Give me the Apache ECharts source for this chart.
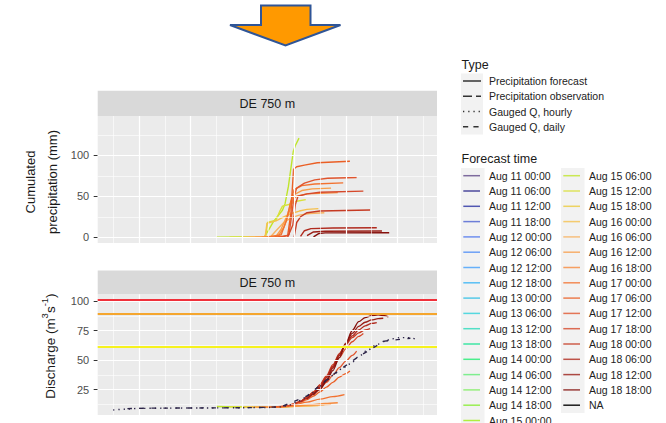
<!DOCTYPE html>
<html>
<head>
<meta charset="utf-8">
<title>DE 750 m – precipitation and discharge forecasts</title>
<script src="https://cdn.jsdelivr.net/npm/echarts@6/dist/echarts.min.js"></script>
<style>
  html, body { margin: 0; padding: 0; background: #ffffff; }
  #chart { width: 666px; height: 423px; }
</style>
</head>
<body>
<div id="chart"></div>
<script>
// ---------------------------------------------------------------------------
// Data. Time is expressed as day of August (decimal): 17.25 = Aug 17 06:00.
// ---------------------------------------------------------------------------

const forecastTimes = [
  'Aug 11 00:00', 'Aug 11 06:00', 'Aug 11 12:00', 'Aug 11 18:00',
  'Aug 12 00:00', 'Aug 12 06:00', 'Aug 12 12:00', 'Aug 12 18:00',
  'Aug 13 00:00', 'Aug 13 06:00', 'Aug 13 12:00', 'Aug 13 18:00',
  'Aug 14 00:00', 'Aug 14 06:00', 'Aug 14 12:00', 'Aug 14 18:00',
  'Aug 15 00:00', 'Aug 15 06:00', 'Aug 15 12:00', 'Aug 15 18:00',
  'Aug 16 00:00', 'Aug 16 06:00', 'Aug 16 12:00', 'Aug 16 18:00',
  'Aug 17 00:00', 'Aug 17 06:00', 'Aug 17 12:00', 'Aug 17 18:00',
  'Aug 18 00:00', 'Aug 18 06:00', 'Aug 18 12:00', 'Aug 18 18:00',
  'NA'
];

const typeLabels = [
  'Precipitation forecast', 'Precipitation observation',
  'Gauged Q, hourly', 'Gauged Q, daily'
];

// cumulated precipitation forecasts [day, mm]
const precip_15_06 = [[15.0,0],[16.85,0.5],[17.0,8],[17.2,19],[17.4,27],[17.55,33],[17.65,41],[17.78,62],[17.88,85],[17.97,105],[18.05,112],[18.19,121]];
const precip_15_12 = [[15.5,0],[16.9,0.5],[16.97,18],[17.3,21],[17.45,32],[17.55,38],[17.8,40],[18.1,44],[18.45,46]];
const precip_16_00 = [[16.0,0],[16.88,0.5],[16.95,17],[17.3,20],[17.6,25],[17.9,29],[18.2,32],[18.5,34],[18.94,35]];
const precip_16_06 = [[16.25,0],[17.1,1],[17.3,8],[17.6,18],[17.9,24],[18.2,27],[18.6,29],[19.17,30]];
const precip_16_12 = [[16.5,0],[17.3,1],[17.5,10],[17.75,28],[17.9,45],[18.0,52],[18.3,57],[18.7,59],[19.43,60]];
const precip_16_18 = [[16.75,0],[17.4,2],[17.6,12],[17.8,30],[17.95,46],[18.1,50],[18.5,53],[19.69,54.5]];
const precip_17_00 = [[17.0,0],[17.5,3],[17.7,20],[17.88,45],[18.0,58],[18.3,63],[18.8,65],[19.9,66.4]];
const precip_17_06 = [[17.25,0],[17.75,2],[17.88,30],[17.93,59],[17.98,83],[18.1,86],[18.4,88],[18.9,91],[20.16,92.7]];
const precip_17_12 = [[17.5,0],[17.8,3],[17.92,30],[18.0,50],[18.1,60],[18.4,66],[18.8,70],[19.3,72],[20.42,73]];
const precip_17_18 = [[17.75,0],[17.95,15],[18.05,40],[18.15,50],[18.5,53],[19.0,55],[20.68,56.3]];
const precip_18_00 = [[18.0,0],[18.1,18],[18.25,25],[18.5,30],[19.0,32],[20.94,33.2]];
const precip_18_06 = [[18.25,1],[18.4,8],[18.65,10.5],[19.5,11.3],[21.2,11.7]];
const precip_18_12 = [[18.5,2],[18.75,6.5],[19.2,7.3],[21.4,7.6]];
const precip_18_18 = [[18.75,0.5],[18.95,4.5],[19.2,5.3],[21.68,5.6]];

// discharge forecasts [day, m3/s]
const q_15_06 = [[15.0,10.6],[15.6,10.4],[16.5,10.2],[17.5,10.3],[18.19,11.2]];
const q_15_12 = [[15.5,10.4],[16.5,10.2],[17.5,10.4],[18.45,11.8]];
const q_16_00 = [[16.0,10.1],[17.0,10.1],[17.8,10.5],[18.4,11.0],[18.94,11.4]];
const q_16_06 = [[16.25,10.0],[17.0,10.1],[17.8,10.6],[18.5,11.3],[19.17,12.0]];
const q_16_12 = [[16.5,10.0],[17.3,10.2],[17.9,10.9],[18.6,11.8],[19.43,12.4]];
const q_16_18 = [[16.75,10.0],[17.5,10.2],[18.0,11.0],[18.6,12.2],[19.2,13.2],[19.69,13.8]];
const q_17_00 = [[17.0,10.1],[17.5,10.5],[17.75,11],[18.0,12],[18.5,14.3],[19.0,16.8],[19.5,19],[19.95,20.7]];
const q_17_06 = [[17.25,10.2],[17.5,10.6],[17.75,11.3],[18.0,12.5],[18.25,14.3],[18.5,16.5],[18.75,19.5],[19.0,23],[19.25,27],[19.5,31],[19.75,35.5],[20.0,38.5],[20.16,40.6]];
const q_17_12 = [[17.5,10.5],[17.75,11.5],[18.0,13],[18.25,15],[18.5,18],[18.75,21.5],[19.0,26],[19.25,31],[19.5,37],[19.75,43.5],[20.0,49],[20.25,54],[20.42,57.6]];
const q_17_18 = [[17.75,11],[18.0,12.5],[18.25,15],[18.5,18.5],[18.75,23],[19.0,29],[19.25,36],[19.5,44],[19.75,52],[20.0,59.5],[20.25,65.5],[20.5,70],[20.68,72.5]];
const q_18_00 = [[18.0,12.5],[18.25,15],[18.5,18.5],[18.75,23],[19.0,29],[19.25,36.5],[19.5,46],[19.75,55.5],[20.0,63],[20.25,69],[20.5,73],[20.75,75.5],[20.94,76.6]];
const q_18_06 = [[18.25,14.5],[18.5,17.5],[18.75,22],[19.0,27.5],[19.25,35],[19.5,44.5],[19.75,55],[20.0,63.5],[20.25,70.5],[20.5,75.5],[20.75,79],[21.0,81],[21.2,81.7]];
const q_18_12 = [[18.5,17],[18.75,21],[19.0,26.5],[19.25,33.5],[19.5,43],[19.75,54],[20.0,64],[20.25,72.5],[20.5,78.5],[20.75,82],[21.0,84],[21.25,85],[21.45,85.4]];
const q_18_18 = [[18.75,20.5],[19.0,25],[19.25,32],[19.5,41],[19.75,52],[20.0,64],[20.25,75],[20.5,82.5],[20.75,86],[21.0,87.6],[21.25,88.2],[21.5,87.5],[21.65,86.5]];

// gauged discharge [day, m3/s]
const gaugedHourly = [[11.0,7.6],[11.5,8.4],[12.0,9.0],[13.0,9.2],[14.0,9.3],[15.0,9.4],[16.0,9.6],[17.0,9.8],[17.5,10.3],[17.85,12],[18.2,15.5],[18.6,20.5],[19.0,28],[19.3,33.5],[19.6,39],[19.9,43.5],[20.2,47],[20.5,53],[20.85,58.5],[21.2,63],[21.5,66],[21.8,68],[22.1,69],[22.4,69],[22.68,68]];
const gaugedDaily = [[11.55,8.8],[12.5,9.2],[13.5,9.3],[14.5,9.4],[15.5,9.5],[16.5,9.7],[17.5,10.3],[18.5,19.5],[19.5,37.5],[20.5,53],[21.5,66],[22.5,68.5]];

// warning levels [m3/s]
const dischargeThresholds = [101, 89, 61.5];

// axis breaks
const dayBreaksMajor = [12, 14, 16, 18, 20, 22];
const dayBreaksMinor = [11, 13, 15, 17, 19, 21, 23];
const precipTicks = [0, 50, 100];
const precipMinor = [25, 75, 125];
const dischargeTicks = [25, 50, 75, 100];
const dischargeMinor = [12.5, 37.5, 62.5, 87.5];

// ---------------------------------------------------------------------------
// Styling
// ---------------------------------------------------------------------------
const FONT = "'Liberation Sans', Arial, Helvetica, sans-serif";

const forecastColors = [
  '#7E6B9E', '#4C4A9C', '#5157B2', '#6D7ED8',
  '#6F8FEF', '#6CA0F6', '#66B0FA', '#58BFF5',
  '#56C9E8', '#55D8DF', '#52DFC6', '#3FE6A5',
  '#4AEE8C', '#7EEE8F', '#97EF7E', '#99EE52',
  '#B0EE3E', '#BFE52A', '#D9E03A', '#EBCB3C',
  '#F5C04E', '#F7B260', '#F89E4A', '#F78A3C',
  '#F27230', '#EA5F25', '#E0552E', '#D6482A',
  '#C63A22', '#B02A1E', '#9A1E16', '#85100C',
  '#1A1A1A'
];
const typeDash = [null, [9, 4], [1.3, 3.9], [5.2, 5.2]];
const thresholdColors = ['#F0303A', '#F5A62E', '#F6F21E'];
const gaugedColor = '#2B2347';

const precipForecasts = {
  'Aug 15 06:00': precip_15_06, 'Aug 15 12:00': precip_15_12,
  'Aug 16 00:00': precip_16_00, 'Aug 16 06:00': precip_16_06,
  'Aug 16 12:00': precip_16_12, 'Aug 16 18:00': precip_16_18,
  'Aug 17 00:00': precip_17_00, 'Aug 17 06:00': precip_17_06,
  'Aug 17 12:00': precip_17_12, 'Aug 17 18:00': precip_17_18,
  'Aug 18 00:00': precip_18_00, 'Aug 18 06:00': precip_18_06,
  'Aug 18 12:00': precip_18_12, 'Aug 18 18:00': precip_18_18
};
const dischargeForecasts = {
  'Aug 15 06:00': q_15_06, 'Aug 15 12:00': q_15_12,
  'Aug 16 00:00': q_16_00, 'Aug 16 06:00': q_16_06,
  'Aug 16 12:00': q_16_12, 'Aug 16 18:00': q_16_18,
  'Aug 17 00:00': q_17_00, 'Aug 17 06:00': q_17_06,
  'Aug 17 12:00': q_17_12, 'Aug 17 18:00': q_17_18,
  'Aug 18 00:00': q_18_00, 'Aug 18 06:00': q_18_06,
  'Aug 18 12:00': q_18_12, 'Aug 18 18:00': q_18_18
};

// panel geometry (px)
const PANEL_LEFT = 97.7, PANEL_W = 339.3;
const TOP_PANEL = { strip: 90.7, stripH: 25.3, top: 116, height: 127 };
const BOT_PANEL = { strip: 270.5, stripH: 23.8, top: 294.3, height: 120.7 };

// ---------------------------------------------------------------------------
// Series
// ---------------------------------------------------------------------------
function panelGridLines(idx, yMajor, yMinor) {
  const ls = (w) => ({ color: '#FFFFFF', width: w, type: 'solid', opacity: 1 });
  const data = []
    .concat(dayBreaksMinor.map(v => ({ xAxis: v, lineStyle: ls(0.6) })))
    .concat(yMinor.map(v => ({ yAxis: v, lineStyle: ls(0.6) })))
    .concat(dayBreaksMajor.map(v => ({ xAxis: v, lineStyle: ls(1.2) })))
    .concat(yMajor.map(v => ({ yAxis: v, lineStyle: ls(1.2) })));
  return {
    type: 'line', xAxisIndex: idx, yAxisIndex: idx, data: [], silent: true, z: 1,
    markLine: {
      silent: true, symbol: ['none', 'none'], label: { show: false },
      emphasis: { disabled: true }, animation: false, data: data
    }
  };
}

const series = [
  panelGridLines(0, precipTicks, precipMinor),
  panelGridLines(1, dischargeTicks, dischargeMinor)
];

forecastTimes.forEach((t, i) => {
  const color = forecastColors[i];
  if (precipForecasts[t]) {
    series.push({
      name: t, type: 'line', xAxisIndex: 0, yAxisIndex: 0,
      data: precipForecasts[t], symbol: 'none', silent: true, z: 3,
      lineStyle: { color: color, width: 1.4 }
    });
  }
  if (dischargeForecasts[t]) {
    series.push({
      name: t, type: 'line', xAxisIndex: 1, yAxisIndex: 1,
      data: dischargeForecasts[t], symbol: 'none', silent: true, z: 3,
      smooth: 0.3, smoothMonotone: 'x',
      lineStyle: { color: color, width: 1.3 }
    });
  }
});

series.push({
  name: typeLabels[2], type: 'line', xAxisIndex: 1, yAxisIndex: 1,
  data: gaugedHourly, symbol: 'none', silent: true, z: 5,
  smooth: 0.3, smoothMonotone: 'x',
  lineStyle: { color: gaugedColor, width: 1.4, type: typeDash[2] }
});
series.push({
  name: typeLabels[3], type: 'line', xAxisIndex: 1, yAxisIndex: 1,
  data: gaugedDaily, symbol: 'none', silent: true, z: 5,
  lineStyle: { color: gaugedColor, width: 1.4, type: [4.5, 7.5] }
});
series.push({
  type: 'line', xAxisIndex: 1, yAxisIndex: 1, data: [], silent: true, z: 6,
  markLine: {
    silent: true, symbol: ['none', 'none'], label: { show: false },
    emphasis: { disabled: true }, animation: false,
    data: dischargeThresholds.map((v, i) => ({
      yAxis: v, lineStyle: { color: thresholdColors[i], width: 1.8, type: 'solid', opacity: 1 }
    }))
  }
});

// ---------------------------------------------------------------------------
// Axes
// ---------------------------------------------------------------------------
function xAxisFor(idx) {
  return {
    gridIndex: idx, type: 'value', min: 10.4, max: 23.53,
    axisLine: { show: false }, axisTick: { show: false },
    axisLabel: { show: false }, splitLine: { show: false }
  };
}
function yAxisFor(idx, min, max, ticks) {
  return {
    gridIndex: idx, type: 'value', min: min, max: max,
    axisLine: { show: false },
    splitLine: { show: false },
    axisTick: { show: true, length: 4, customValues: ticks, lineStyle: { color: '#333333', width: 1 } },
    axisLabel: {
      customValues: ticks, color: '#4D4D4D', fontSize: 11, fontFamily: FONT, margin: 8.5
    }
  };
}

// ---------------------------------------------------------------------------
// Decorations: arrow, facet strips, axis titles and legends
// ---------------------------------------------------------------------------
const g = [];

g.push({
  type: 'polygon', silent: true,
  shape: { points: [[261, 5.5], [310.5, 5.5], [310.5, 25], [340.5, 25], [285.5, 45.5], [230, 25], [261, 25]] },
  style: { fill: '#FF9900', stroke: '#2F5597', lineWidth: 2, lineJoin: 'miter' }
});

[TOP_PANEL, BOT_PANEL].forEach(p => {
  g.push({ type: 'rect', silent: true,
    shape: { x: PANEL_LEFT, y: p.strip, width: PANEL_W, height: p.stripH },
    style: { fill: '#D9D9D9' } });
  g.push({ type: 'text', silent: true, x: PANEL_LEFT + PANEL_W / 2, y: p.strip + p.stripH / 2 + 0.5,
    style: { text: 'DE 750 m', fill: '#1A1A1A', fontSize: 12.5, fontFamily: FONT,
      textAlign: 'center', textVerticalAlign: 'middle' } });
});

g.push({ type: 'text', silent: true, x: 41.5, y: 182, rotation: Math.PI / 2,
  style: { text: 'Cumulated\nprecipitation (mm)', fill: '#1A1A1A', fontSize: 13, fontFamily: FONT,
    lineHeight: 22, textAlign: 'center', textVerticalAlign: 'middle' } });
g.push({ type: 'text', silent: true, x: 50.5, y: 346, rotation: Math.PI / 2,
  style: {
    text: '{n|Discharge (m}{s|3}{n|s}{s|-1}{n|)}',
    textAlign: 'center', textVerticalAlign: 'middle',
    rich: {
      n: { fontSize: 13.5, fontFamily: FONT, fill: '#1A1A1A', lineHeight: 22 },
      s: { fontSize: 9.5, fontFamily: FONT, fill: '#1A1A1A', lineHeight: 9, verticalAlign: 'top' }
    }
  } });

// legend: line type
g.push({ type: 'text', silent: true, x: 461.5, y: 64.5,
  style: { text: 'Type', fill: '#1A1A1A', fontSize: 12.5, fontFamily: FONT, textVerticalAlign: 'middle' } });
g.push({ type: 'rect', silent: true, shape: { x: 461, y: 73.5, width: 22, height: 61 }, style: { fill: '#F2F2F2' } });
typeLabels.forEach((lab, i) => {
  const y = 81 + i * 15.25;
  g.push({ type: 'line', silent: true, shape: { x1: 463, y1: y, x2: 481, y2: y },
    style: { stroke: '#333333', lineWidth: 1.5, lineDash: typeDash[i] } });
  g.push({ type: 'text', silent: true, x: 489, y: y,
    style: { text: lab, fill: '#222222', fontSize: 10.5, fontFamily: FONT, textVerticalAlign: 'middle' } });
});

// legend: forecast time (two columns)
g.push({ type: 'text', silent: true, x: 461.5, y: 158.5,
  style: { text: 'Forecast time', fill: '#1A1A1A', fontSize: 12.5, fontFamily: FONT, textVerticalAlign: 'middle' } });
const perColumn = 17;
g.push({ type: 'rect', silent: true, shape: { x: 461, y: 168, width: 23.5, height: 262 }, style: { fill: '#F2F2F2' } });
g.push({ type: 'rect', silent: true, shape: { x: 561, y: 168, width: 23.5, height: 245 }, style: { fill: '#F2F2F2' } });
forecastTimes.forEach((t, i) => {
  const col = Math.floor(i / perColumn), row = i % perColumn;
  const x0 = 461 + col * 100, y = 175.7 + row * 15.3;
  g.push({ type: 'line', silent: true, shape: { x1: x0 + 2.3, y1: y, x2: x0 + 19, y2: y },
    style: { stroke: forecastColors[i], lineWidth: 1.5, opacity: col === 1 && i < forecastTimes.length - 1 ? 0.8 : 1 } });
  g.push({ type: 'text', silent: true, x: x0 + 28, y: y,
    style: { text: t, fill: '#222222', fontSize: 10.5, fontFamily: FONT, textVerticalAlign: 'middle' } });
});

// ---------------------------------------------------------------------------
const chart = echarts.init(document.getElementById('chart'), null, { renderer: 'svg' });
chart.setOption({
  animation: false,
  backgroundColor: '#FFFFFF',
  grid: [
    { left: PANEL_LEFT, top: TOP_PANEL.top, width: PANEL_W, height: TOP_PANEL.height,
      show: true, backgroundColor: '#EBEBEB', borderWidth: 0, containLabel: false },
    { left: PANEL_LEFT, top: BOT_PANEL.top, width: PANEL_W, height: BOT_PANEL.height,
      show: true, backgroundColor: '#EBEBEB', borderWidth: 0, containLabel: false }
  ],
  xAxis: [xAxisFor(0), xAxisFor(1)],
  yAxis: [yAxisFor(0, -7, 148, precipTicks), yAxisFor(1, 3.4, 105.7, dischargeTicks)],
  series: series,
  graphic: { elements: g }
});
</script>
</body>
</html>
